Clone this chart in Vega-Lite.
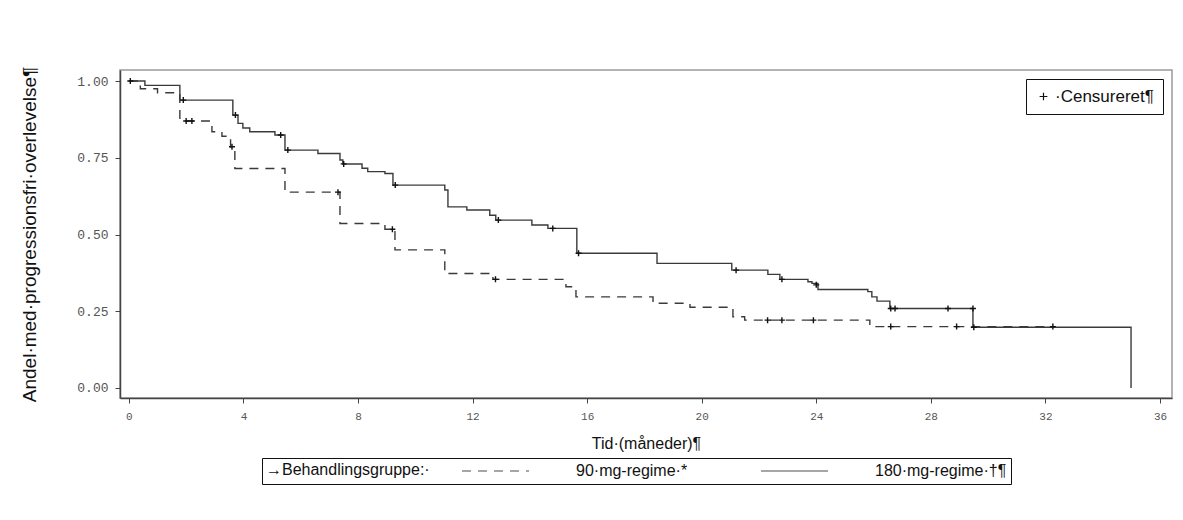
{
  "$schema": "https://vega.github.io/schema/vega-lite/v6.json",
  "width": 1052,
  "height": 328,
  "padding": {"left": 20, "top": 66, "right": 11, "bottom": 5},
  "autosize": {"type": "pad"},
  "background": "white",
  "config": {
    "font": "Liberation Sans",
    "view": {"stroke": "#9a9a9a", "strokeWidth": 1.5}
  },
  "datasets": {
    "kurver": [
      {"gruppe": "90·mg-regime·*", "tid": 0, "overlevelse": 1.0},
      {"gruppe": "90·mg-regime·*", "tid": 0.4, "overlevelse": 0.975},
      {"gruppe": "90·mg-regime·*", "tid": 1.0, "overlevelse": 0.962},
      {"gruppe": "90·mg-regime·*", "tid": 1.78, "overlevelse": 0.87},
      {"gruppe": "90·mg-regime·*", "tid": 2.9, "overlevelse": 0.835},
      {"gruppe": "90·mg-regime·*", "tid": 3.25, "overlevelse": 0.82},
      {"gruppe": "90·mg-regime·*", "tid": 3.55, "overlevelse": 0.786},
      {"gruppe": "90·mg-regime·*", "tid": 3.7, "overlevelse": 0.715},
      {"gruppe": "90·mg-regime·*", "tid": 5.45, "overlevelse": 0.638},
      {"gruppe": "90·mg-regime·*", "tid": 7.37, "overlevelse": 0.536},
      {"gruppe": "90·mg-regime·*", "tid": 8.94, "overlevelse": 0.517},
      {"gruppe": "90·mg-regime·*", "tid": 9.29, "overlevelse": 0.45},
      {"gruppe": "90·mg-regime·*", "tid": 11.03, "overlevelse": 0.373},
      {"gruppe": "90·mg-regime·*", "tid": 12.71, "overlevelse": 0.354},
      {"gruppe": "90·mg-regime·*", "tid": 15.26, "overlevelse": 0.33},
      {"gruppe": "90·mg-regime·*", "tid": 15.61, "overlevelse": 0.297},
      {"gruppe": "90·mg-regime·*", "tid": 18.3, "overlevelse": 0.276},
      {"gruppe": "90·mg-regime·*", "tid": 19.59, "overlevelse": 0.263},
      {"gruppe": "90·mg-regime·*", "tid": 21.09, "overlevelse": 0.232},
      {"gruppe": "90·mg-regime·*", "tid": 21.5, "overlevelse": 0.221},
      {"gruppe": "90·mg-regime·*", "tid": 25.87, "overlevelse": 0.2},
      {"gruppe": "90·mg-regime·*", "tid": 32.26, "overlevelse": 0.2},
      {"gruppe": "180·mg-regime·†¶", "tid": 0, "overlevelse": 1.0},
      {"gruppe": "180·mg-regime·†¶", "tid": 0.56, "overlevelse": 0.986},
      {"gruppe": "180·mg-regime·†¶", "tid": 1.78, "overlevelse": 0.938},
      {"gruppe": "180·mg-regime·†¶", "tid": 3.63, "overlevelse": 0.889},
      {"gruppe": "180·mg-regime·†¶", "tid": 3.81, "overlevelse": 0.862},
      {"gruppe": "180·mg-regime·†¶", "tid": 3.98, "overlevelse": 0.847},
      {"gruppe": "180·mg-regime·†¶", "tid": 4.22, "overlevelse": 0.835},
      {"gruppe": "180·mg-regime·†¶", "tid": 5.1, "overlevelse": 0.824},
      {"gruppe": "180·mg-regime·†¶", "tid": 5.45, "overlevelse": 0.775},
      {"gruppe": "180·mg-regime·†¶", "tid": 6.6, "overlevelse": 0.764},
      {"gruppe": "180·mg-regime·†¶", "tid": 7.37, "overlevelse": 0.743},
      {"gruppe": "180·mg-regime·†¶", "tid": 7.47, "overlevelse": 0.73},
      {"gruppe": "180·mg-regime·†¶", "tid": 8.14, "overlevelse": 0.716},
      {"gruppe": "180·mg-regime·†¶", "tid": 8.34, "overlevelse": 0.705},
      {"gruppe": "180·mg-regime·†¶", "tid": 8.94, "overlevelse": 0.699},
      {"gruppe": "180·mg-regime·†¶", "tid": 9.22, "overlevelse": 0.661},
      {"gruppe": "180·mg-regime·†¶", "tid": 11.03, "overlevelse": 0.645},
      {"gruppe": "180·mg-regime·†¶", "tid": 11.14, "overlevelse": 0.59},
      {"gruppe": "180·mg-regime·†¶", "tid": 11.8, "overlevelse": 0.58},
      {"gruppe": "180·mg-regime·†¶", "tid": 12.6, "overlevelse": 0.563},
      {"gruppe": "180·mg-regime·†¶", "tid": 12.81, "overlevelse": 0.547},
      {"gruppe": "180·mg-regime·†¶", "tid": 14.07, "overlevelse": 0.531},
      {"gruppe": "180·mg-regime·†¶", "tid": 14.63, "overlevelse": 0.52},
      {"gruppe": "180·mg-regime·†¶", "tid": 15.64, "overlevelse": 0.439},
      {"gruppe": "180·mg-regime·†¶", "tid": 18.44, "overlevelse": 0.406},
      {"gruppe": "180·mg-regime·†¶", "tid": 21.05, "overlevelse": 0.384},
      {"gruppe": "180·mg-regime·†¶", "tid": 22.31, "overlevelse": 0.37},
      {"gruppe": "180·mg-regime·†¶", "tid": 22.73, "overlevelse": 0.354},
      {"gruppe": "180·mg-regime·†¶", "tid": 23.71, "overlevelse": 0.346},
      {"gruppe": "180·mg-regime·†¶", "tid": 23.85, "overlevelse": 0.341},
      {"gruppe": "180·mg-regime·†¶", "tid": 24.06, "overlevelse": 0.321},
      {"gruppe": "180·mg-regime·†¶", "tid": 25.8, "overlevelse": 0.314},
      {"gruppe": "180·mg-regime·†¶", "tid": 25.94, "overlevelse": 0.297},
      {"gruppe": "180·mg-regime·†¶", "tid": 26.12, "overlevelse": 0.283},
      {"gruppe": "180·mg-regime·†¶", "tid": 26.57, "overlevelse": 0.259},
      {"gruppe": "180·mg-regime·†¶", "tid": 29.47, "overlevelse": 0.198},
      {"gruppe": "180·mg-regime·†¶", "tid": 34.99, "overlevelse": 0.0}
    ],
    "censur": [
      {"markering": "Censureret", "tid": 0.05, "overlevelse": 1.0},
      {"markering": "Censureret", "tid": 1.9, "overlevelse": 0.938},
      {"markering": "Censureret", "tid": 3.72, "overlevelse": 0.889},
      {"markering": "Censureret", "tid": 5.3, "overlevelse": 0.824},
      {"markering": "Censureret", "tid": 5.55, "overlevelse": 0.775},
      {"markering": "Censureret", "tid": 7.5, "overlevelse": 0.73},
      {"markering": "Censureret", "tid": 9.3, "overlevelse": 0.661},
      {"markering": "Censureret", "tid": 12.9, "overlevelse": 0.547},
      {"markering": "Censureret", "tid": 14.8, "overlevelse": 0.52},
      {"markering": "Censureret", "tid": 15.7, "overlevelse": 0.439},
      {"markering": "Censureret", "tid": 21.2, "overlevelse": 0.384},
      {"markering": "Censureret", "tid": 22.8, "overlevelse": 0.354},
      {"markering": "Censureret", "tid": 24.0, "overlevelse": 0.336},
      {"markering": "Censureret", "tid": 26.6, "overlevelse": 0.259},
      {"markering": "Censureret", "tid": 26.75, "overlevelse": 0.259},
      {"markering": "Censureret", "tid": 28.6, "overlevelse": 0.259},
      {"markering": "Censureret", "tid": 29.47, "overlevelse": 0.259},
      {"markering": "Censureret", "tid": 29.5, "overlevelse": 0.198},
      {"markering": "Censureret", "tid": 2.0, "overlevelse": 0.87},
      {"markering": "Censureret", "tid": 2.2, "overlevelse": 0.87},
      {"markering": "Censureret", "tid": 3.6, "overlevelse": 0.786},
      {"markering": "Censureret", "tid": 7.3, "overlevelse": 0.638},
      {"markering": "Censureret", "tid": 9.2, "overlevelse": 0.517},
      {"markering": "Censureret", "tid": 12.8, "overlevelse": 0.354},
      {"markering": "Censureret", "tid": 22.3, "overlevelse": 0.221},
      {"markering": "Censureret", "tid": 22.8, "overlevelse": 0.221},
      {"markering": "Censureret", "tid": 23.9, "overlevelse": 0.221},
      {"markering": "Censureret", "tid": 26.6, "overlevelse": 0.2},
      {"markering": "Censureret", "tid": 28.9, "overlevelse": 0.2},
      {"markering": "Censureret", "tid": 32.26, "overlevelse": 0.2}
    ]
  },
  "encoding": {
    "x": {
      "field": "tid", "type": "quantitative",
      "scale": {"domain": [-0.31, 36.42], "nice": false, "zero": false},
      "axis": {
        "values": [0, 4, 8, 12, 16, 20, 24, 28, 32, 36],
        "title": "Tid·(måneder)¶",
        "titleFont": "Liberation Sans", "titleFontSize": 16, "titleFontWeight": "normal", "titleColor": "#111",
        "titlePadding": 14,
        "labelFont": "Liberation Mono", "labelFontSize": 11, "labelColor": "#555",
        "labelPadding": 7,
        "grid": false, "domainColor": "#444", "domainWidth": 1.5,
        "tickColor": "#444", "tickSize": 5
      }
    },
    "y": {
      "field": "overlevelse", "type": "quantitative",
      "scale": {"domain": [-0.0326, 1.036], "nice": false, "zero": false},
      "axis": {
        "values": [0, 0.25, 0.5, 0.75, 1],
        "format": ".2f",
        "title": "Andel·med·progressionsfri·overlevelse¶",
        "titleFont": "Liberation Sans", "titleFontSize": 19, "titleFontWeight": "normal", "titleColor": "#111",
        "titlePadding": 37,
        "labelFont": "Liberation Mono", "labelFontSize": 13, "labelColor": "#555",
        "labelPadding": 7,
        "grid": false, "domainColor": "#444", "domainWidth": 1.5,
        "tickColor": "#444", "tickSize": 5
      }
    }
  },
  "layer": [
    {
      "data": {"name": "kurver"},
      "mark": {"type": "line", "interpolate": "step-after", "color": "#3a3a3a", "strokeWidth": 1.4},
      "encoding": {
        "strokeDash": {
          "field": "gruppe", "type": "nominal",
          "scale": {"domain": ["90·mg-regime·*", "180·mg-regime·†¶"], "range": [[9, 7], [1, 0]]},
          "legend": {
            "orient": "none",
            "legendX": 142,
            "legendY": 388,
            "direction": "horizontal",
            "title": "→Behandlingsgruppe:·",
            "titleOrient": "left",
            "titleFont": "Liberation Sans", "titleFontSize": 16, "titleFontWeight": "normal", "titleColor": "#111",
            "titlePadding": 31,
            "titleAnchor": "start",
            "titleBaseline": "top",
            "labelFont": "Liberation Sans", "labelFontSize": 16, "labelColor": "#111",
            "labelOffset": 46,
            "columnPadding": 72,
            "clipHeight": 18,
            "symbolType": "stroke", "symbolSize": 4500, "symbolStrokeWidth": 1.5, "symbolStrokeColor": "#888",
            "strokeColor": "#111", "fillColor": "white", "padding": 4
          }
        },
        "order": {"field": "tid"}
      }
    },
    {
      "data": {"name": "censur"},
      "mark": {"type": "point", "filled": false, "stroke": "#111", "strokeWidth": 1.4, "size": 36, "opacity": 1},
      "encoding": {
        "shape": {
          "field": "markering", "type": "nominal",
          "scale": {"range": ["M-1,0L1,0M0,-1L0,1"]},
          "legend": {
            "orient": "top-right",
            "title": null,
            "labelExpr": "'·Censureret¶'",
            "labelFont": "Liberation Sans", "labelFontSize": 17, "labelColor": "#111",
            "labelOffset": 3,
            "symbolSize": 60, "symbolStrokeColor": "#111", "symbolStrokeWidth": 1.2,
            "strokeColor": "#111", "fillColor": "white", "padding": 9, "offset": 9
          }
        }
      }
    }
  ]
}
